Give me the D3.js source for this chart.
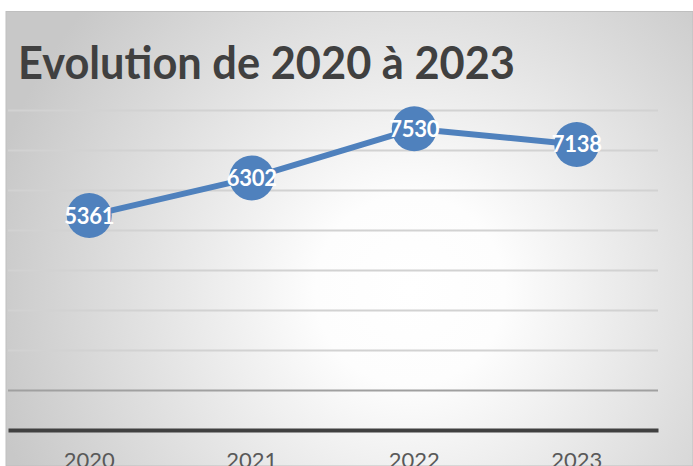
<!DOCTYPE html>
<html><head><meta charset="utf-8">
<script src="https://cdn.jsdelivr.net/npm/d3@7"></script>
<style>html,body{margin:0;padding:0;background:#fff;overflow:hidden}</style>
</head><body>
<svg id="c" width="693" height="466"></svg>
<script>
const title = "Evolution de 2020 à 2023";
const categories = ["2020","2021","2022","2023"];
const values = [5361, 6302, 7530, 7138];
const yTicks = [1000,2000,3000,4000,5000,6000,7000,8000];

const svg = d3.select("#c");
const W = 693, H = 466;
const defs = svg.append("defs");
const rg = defs.append("radialGradient").attr("id","bg")
  .attr("gradientUnits","userSpaceOnUse")
  .attr("cx",410).attr("cy",290).attr("r",430);
rg.append("stop").attr("offset","0%").attr("stop-color","#ffffff");
rg.append("stop").attr("offset","22%").attr("stop-color","#fdfdfd");
rg.append("stop").attr("offset","100%").attr("stop-color","#c8c8c8");

svg.append("rect").attr("x",6).attr("y",11.5).attr("width",W-6).attr("height",H-11.5)
  .attr("fill","url(#bg)").attr("stroke","#bfbfbf").attr("stroke-width",1);

const x = d3.scaleBand().domain(categories).range([8,658]);
const y = d3.scaleLinear().domain([0,8000]).range([430,110]);

// gridlines
svg.append("g").attr("transform","translate(8,0)")
  .call(d3.axisLeft(y).tickValues(yTicks).tickSize(-(658-8)).tickFormat(""))
  .call(g=>g.select(".domain").remove())
  .call(g=>g.selectAll(".tick line").attr("stroke-width",2)
     .attr("stroke", d=> d===1000 ? "#a0a0a0" : "#d2d2d2"));

// x axis
const xa = svg.append("g").attr("transform","translate(0,430)")
  .call(d3.axisBottom(x).tickSize(0).tickPadding(22));
xa.select(".domain").attr("stroke","#404040").attr("stroke-width",4);
xa.selectAll("text").attr("fill","#595959").attr("font-family","Lato, 'Open Sans', sans-serif")
  .attr("font-size",22);

// title
svg.append("text").attr("x",18).attr("y",79).text(title)
  .attr("font-family","Lato, 'Open Sans', sans-serif").attr("font-weight","bold")
  .attr("font-size",46).attr("fill","#404040")
  .attr("textLength",497).attr("lengthAdjust","spacingAndGlyphs");

const cx = d=>x(d)+x.bandwidth()/2;
const line = d3.line().x((d,i)=>cx(categories[i])).y(d=>y(d));
svg.append("path").datum(values).attr("d",line).attr("fill","none")
  .attr("stroke","#4f81bd").attr("stroke-width",6).attr("stroke-linejoin","round");

svg.selectAll("circle.m").data(values).join("circle").attr("class","m")
  .attr("cx",(d,i)=>cx(categories[i])).attr("cy",d=>y(d)).attr("r",22.5)
  .attr("fill","#4f81bd");

svg.selectAll("text.lbl").data(values).join("text").attr("class","lbl")
  .attr("x",(d,i)=>cx(categories[i])).attr("y",d=>y(d)+8)
  .attr("text-anchor","middle").attr("fill","#ffffff")
  .attr("font-family","Lato, 'Open Sans', sans-serif").attr("font-weight","bold")
  .attr("font-size",22).attr("letter-spacing",-0.3).text(d=>d);
</script>
</body></html>
